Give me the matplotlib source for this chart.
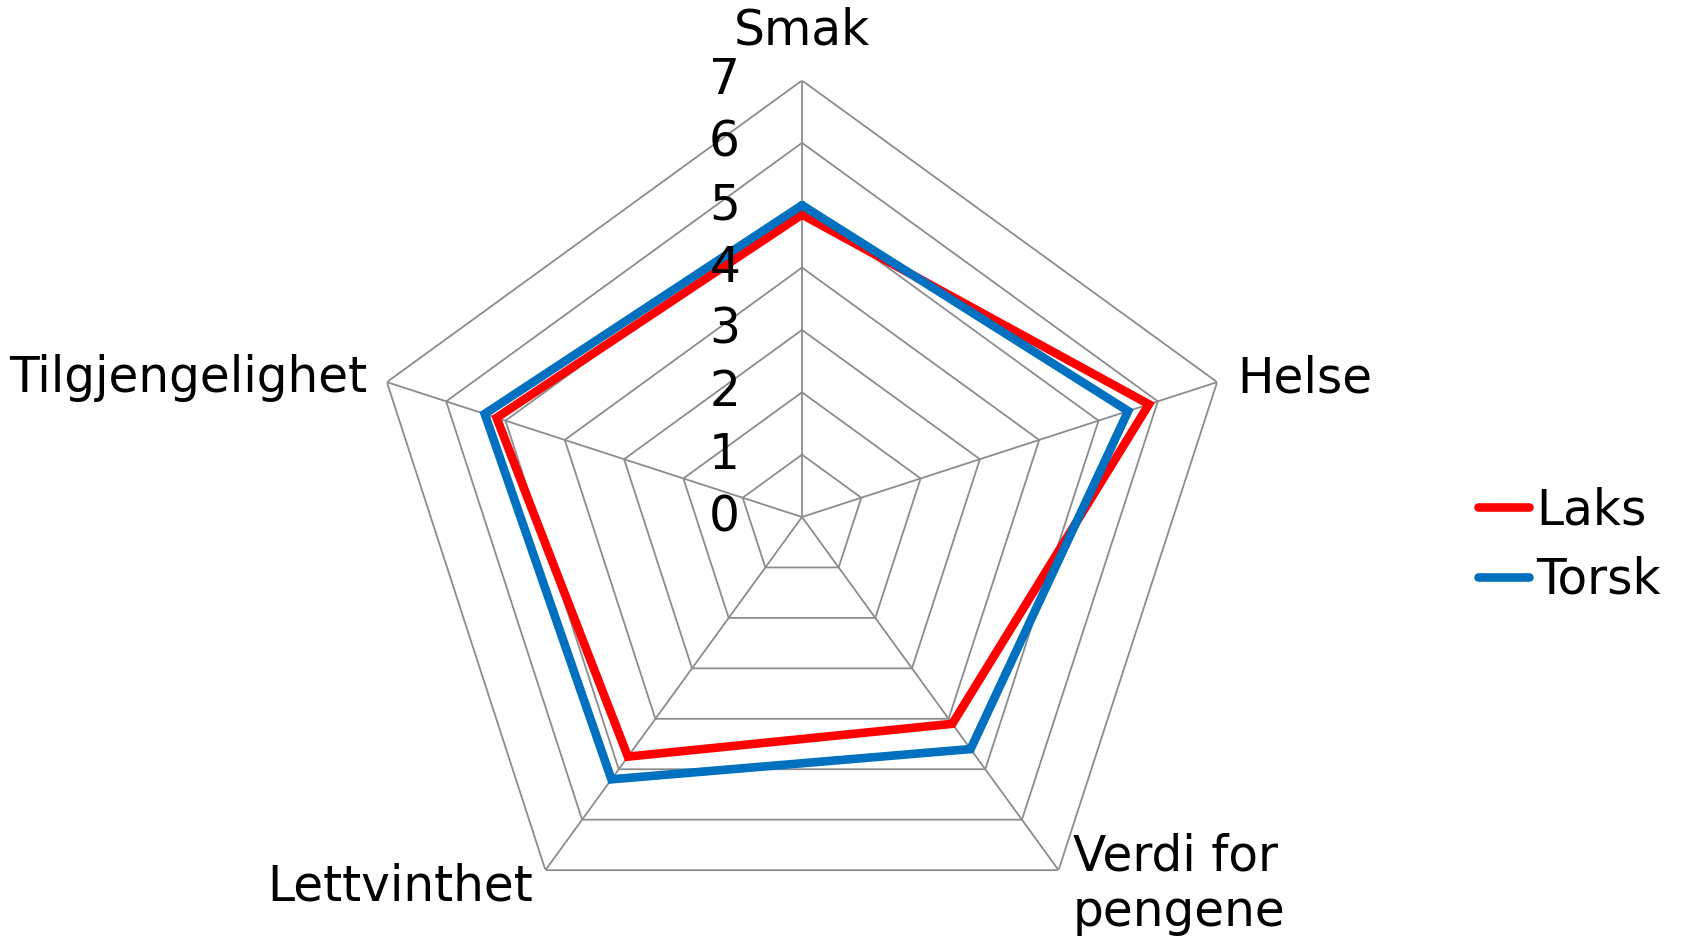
import numpy as np
import matplotlib
matplotlib.use("Agg")
import matplotlib.pyplot as plt

# ----------------------------
# Data
# ----------------------------
categories = ["Smak", "Helse", "Verdi for\npengene", "Lettvinthet", "Tilgjengelighet"]
laks = [4.85, 5.85, 4.1, 4.75, 5.15]
torsk = [5.0, 5.5, 4.6, 5.2, 5.35]
levels = [0, 1, 2, 3, 4, 5, 6, 7]

plt.rcParams["font.family"] = ["DejaVu Sans"]
FS = 35

# ----------------------------
# Figure / axes
# ----------------------------
W, H = 1688, 940
fig = plt.figure(figsize=(W / 100, H / 100), dpi=100)
cx, cy, R = 802, 517, 436.5
ax = fig.add_axes([(cx - R) / W, (H - cy - R) / H, 2 * R / W, 2 * R / H], projection="polar")
ax.set_theta_offset(np.pi / 2)
ax.set_theta_direction(-1)
ax.set_ylim(0, 7)
ax.grid(False)
ax.spines["polar"].set_visible(False)
ax.set_xticks([])
ax.set_yticks([])
ax.patch.set_alpha(0)

n = len(categories)
theta = np.linspace(0, 2 * np.pi, n, endpoint=False)
theta_c = np.append(theta, theta[0])

# grid polygons and spokes
grid_col = "#8c8c8c"
for lv in levels[1:]:
    ax.plot(theta_c, [lv] * (n + 1), color=grid_col, lw=1.3, zorder=1)
for t in theta:
    ax.plot([t, t], [0, 7], color=grid_col, lw=1.3, zorder=1)

# series
ax.plot(theta_c, laks + laks[:1], color="#ff0000", lw=6.2, label="Laks",
        solid_joinstyle="miter", solid_capstyle="round", zorder=3)
ax.plot(theta_c, torsk + torsk[:1], color="#0070c0", lw=6.2, label="Torsk",
        solid_joinstyle="miter", solid_capstyle="round", zorder=4)

# scale labels
for lv in levels:
    ax.annotate(str(lv), xy=(0, lv), xytext=(-62, 0), textcoords="offset pixels",
                ha="right", va="center", fontsize=FS, zorder=5)

# category labels
lab_pos = [
    ((0, 26), "center", "bottom"),
    ((20, 4), "left", "center"),
    ((14, -14), "left", "center"),
    ((-12, -16), "right", "center"),
    ((-20, 4), "right", "center"),
]
for t, lab, (off, ha, va) in zip(theta, categories, lab_pos):
    ax.annotate(lab, xy=(t, 7), xytext=off, textcoords="offset pixels",
                ha=ha, va=va, fontsize=FS, linespacing=1.2, annotation_clip=False)

# ----------------------------
# Legend
# ----------------------------
leg = fig.legend(loc="center left", bbox_to_anchor=(1478 / W, (H - 545) / H),
                 frameon=False, fontsize=FS, handlelength=1.05, handletextpad=0.15,
                 labelspacing=0.45, borderpad=0, borderaxespad=0)

fig.savefig("out.png", dpi=100)
